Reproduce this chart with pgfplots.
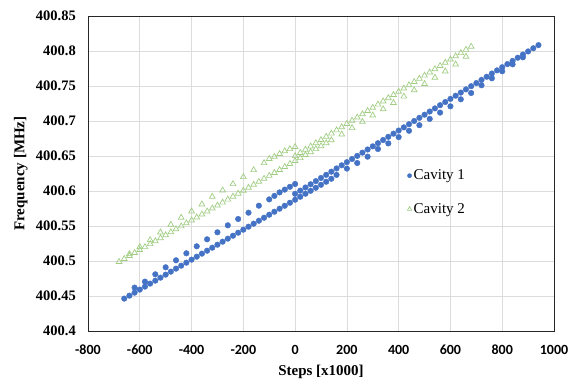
\documentclass[border=0pt]{standalone}
\usepackage{pgfplots}
\pgfplotsset{compat=1.18}
\usepackage{fontspec}
\setmainfont{Liberation Serif}
\newfontfamily\carlito{Carlito}
\definecolor{cblue}{RGB}{68,114,196}
\definecolor{cgreen}{RGB}{160,205,130}
\definecolor{cgrid}{RGB}{220,220,220}
\begin{document}
\begin{tikzpicture}
\path[use as bounding box] (0,0) rectangle (576pt,380pt);
\begin{axis}[
  at={(88pt,49pt)}, anchor=south west,
  width=466pt, height=315pt, scale only axis,
  xmin=-800, xmax=1000, ymin=400.4, ymax=400.85,
  xtick={-800,-600,-400,-200,0,200,400,600,800,1000},
  xticklabels={-800,-600,-400,-200,0,200,400,600,800,1000},
  ytick={400.4,400.45,400.5,400.55,400.6,400.65,400.7,400.75,400.8,400.85},
  yticklabels={400.4,400.45,400.5,400.55,400.6,400.65,400.7,400.75,400.8,400.85},
  scaled ticks=false,
  major tick length=0pt,
  grid=major,
  major grid style={cgrid, line width=0.6pt},
  axis line style={black!85, line width=0.8pt},
  xticklabel style={font=\carlito\fontsize{14}{16}\selectfont\bfseries, anchor=center, inner sep=0pt, yshift=-19pt},
  yticklabel style={font=\fontsize{14.5}{16}\selectfont\bfseries, anchor=east, inner sep=0pt, xshift=-12pt},
  xlabel={Steps [x1000]},
  ylabel={Frequency [MHz]},
  label style={font=\fontsize{15}{17}\selectfont\bfseries},
  xlabel style={at={(axis description cs:0.5,-0.130)}, anchor=center},
  ylabel style={at={(axis description cs:-0.144,0.5)}, anchor=center},
  legend style={draw=none, fill=none, at={(rel axis cs:0.685,0.44)}, anchor=west,
    font=\fontsize{15}{17}\selectfont, row sep=18pt, inner sep=0pt},
  legend cell align=left,
  legend image post style={scale=0.75},
]
\addplot[only marks, mark=*, mark size=2.8pt, mark options={draw=cblue, fill=cblue}] coordinates {
(-660,400.4463) (-640,400.4505) (-620,400.4548) (-600,400.4591) (-580,400.4634) (-560,400.4677)
(-540,400.4719) (-520,400.4762) (-500,400.4805) (-480,400.4848) (-460,400.4891) (-440,400.4933)
(-420,400.4976) (-400,400.5019) (-380,400.5062) (-360,400.5105) (-340,400.5147) (-320,400.5190)
(-300,400.5233) (-280,400.5276) (-260,400.5319) (-240,400.5361) (-220,400.5404) (-200,400.5447)
(-180,400.5490) (-160,400.5533) (-140,400.5575) (-120,400.5618) (-100,400.5661) (-80,400.5704)
(-60,400.5747) (-40,400.5789) (-20,400.5832) (0,400.5875) (20,400.5918) (40,400.5961)
(60,400.6003) (80,400.6046) (100,400.6089) (120,400.6132) (140,400.6175)
(0,400.5960) (20,400.6005) (40,400.6050) (60,400.6096) (80,400.6141) (100,400.6186)
(120,400.6231) (140,400.6276) (160,400.6322) (180,400.6367) (200,400.6412) (220,400.6457)
(240,400.6502) (260,400.6548) (280,400.6593) (300,400.6638) (320,400.6683) (340,400.6728)
(360,400.6774) (380,400.6819) (400,400.6864) (420,400.6909) (440,400.6954) (460,400.7000)
(480,400.7045) (500,400.7090) (520,400.7135) (540,400.7180) (560,400.7226) (580,400.7271)
(600,400.7316) (620,400.7361) (640,400.7406) (660,400.7452) (680,400.7497) (700,400.7542)
(720,400.7587) (740,400.7632) (760,400.7678) (780,400.7723) (800,400.7768) (820,400.7813)
(840,400.7858) (860,400.7904) (880,400.7949) (900,400.7994) (920,400.8039) (940,400.8084)
(-620,400.462) (-580,400.4705) (-540,400.481) (-500,400.491) (-460,400.501) (-420,400.511)
(-380,400.521) (-340,400.531) (-300,400.541) (-260,400.551) (-220,400.560) (-180,400.569)
(-140,400.579) (-100,400.588) (-80,400.593) (-60,400.598) (-40,400.602) (-20,400.606) (0,400.610)
(160,400.623) (200,400.632) (240,400.640) (280,400.649) (320,400.660) (360,400.668)
(400,400.677) (440,400.686) (480,400.694) (520,400.703) (560,400.712) (600,400.721)
(640,400.731) (680,400.740) (720,400.751) (760,400.761) (800,400.771) (840,400.781) (880,400.791)
};
\addlegendentry{Cavity 1}
\addplot[only marks, mark=triangle, mark size=3.3pt, mark options={draw=cgreen, line width=0.7pt}] coordinates {
(-680,400.4988) (-660,400.5031) (-640,400.5073) (-620,400.5116) (-600,400.5158) (-580,400.5200)
(-560,400.5243) (-540,400.5285) (-520,400.5328) (-500,400.5370) (-480,400.5412) (-460,400.5455)
(-440,400.5497) (-420,400.5540) (-400,400.5582) (-380,400.5624) (-360,400.5667) (-340,400.5709)
(-320,400.5752) (-300,400.5794) (-280,400.5836) (-260,400.5879) (-240,400.5921) (-220,400.5964)
(-200,400.6006) (-180,400.6048) (-160,400.6091) (-140,400.6133) (-120,400.6176) (-100,400.6218)
(-80,400.6260) (-60,400.6303) (-40,400.6345) (-20,400.6388) (0,400.6430) (20,400.6472)
(40,400.6515) (60,400.6557) (80,400.6600) (100,400.6642) (120,400.6684) (140,400.6727)
(0,400.6500) (20,400.6546) (40,400.6592) (60,400.6638) (80,400.6684) (100,400.6730)
(120,400.6776) (140,400.6822) (160,400.6868) (180,400.6914) (200,400.6960) (220,400.7006)
(240,400.7052) (260,400.7098) (280,400.7144) (300,400.7190) (320,400.7236) (340,400.7282)
(360,400.7328) (380,400.7374) (400,400.7420) (420,400.7466) (440,400.7512) (460,400.7558)
(480,400.7604) (500,400.7650) (520,400.7696) (540,400.7742) (560,400.7788) (580,400.7834)
(600,400.7880) (620,400.7926) (640,400.7972) (660,400.8018) (680,400.8064)
(-640,400.510) (-600,400.520) (-560,400.530) (-520,400.541) (-480,400.552) (-440,400.562)
(-400,400.571) (-360,400.581) (-320,400.592) (-280,400.601) (-240,400.610) (-200,400.620)
(-160,400.630) (-120,400.640) (-100,400.646) (-80,400.649) (-60,400.653) (-40,400.657)
(-20,400.660) (0,400.663)
(180,400.681) (220,400.690) (260,400.699) (300,400.708) (340,400.717) (380,400.726)
(420,400.735) (460,400.744) (500,400.753) (540,400.762) (580,400.771) (620,400.781) (660,400.792)
};
\addlegendentry{Cavity 2}
\end{axis}
\end{tikzpicture}
\end{document}
